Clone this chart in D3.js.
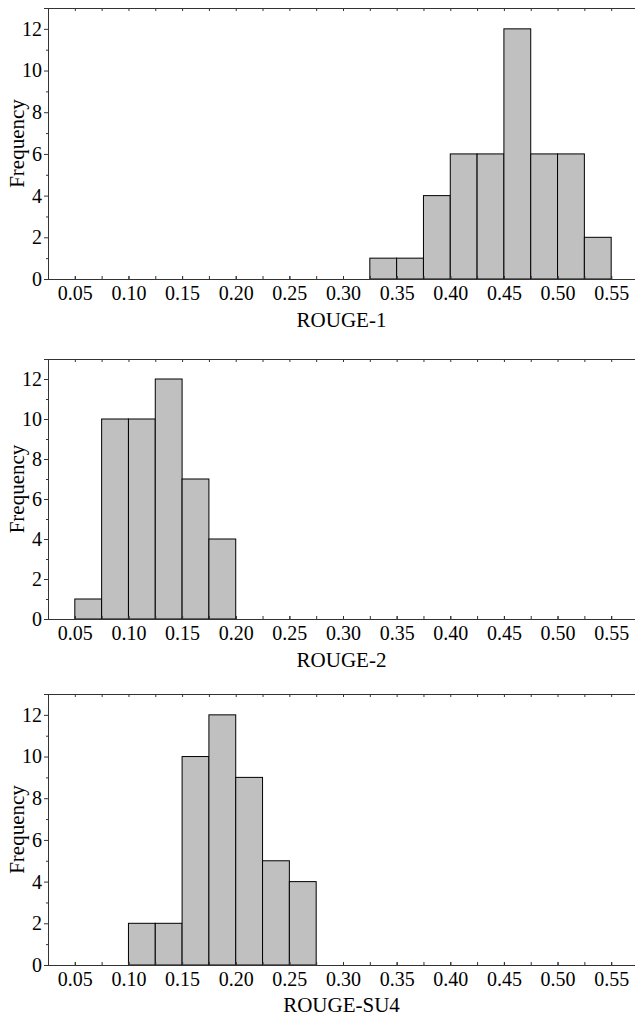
<!DOCTYPE html>
<html>
<head>
<meta charset="utf-8">
<script src="https://cdn.jsdelivr.net/npm/d3@7"></script>
<style>
  body { margin: 0; background: #fff; }
</style>
</head>
<body>
<div id="chart"></div>
<script>
// Histogram bins (width 0.025)
const binWidth = 0.025;
const rouge1Start = 0.325;
const rouge1Counts = [1, 1, 4, 6, 6, 12, 6, 6, 2];
const rouge2Start = 0.05;
const rouge2Counts = [1, 10, 10, 12, 7, 4];
const rougeSU4Start = 0.10;
const rougeSU4Counts = [2, 2, 10, 12, 9, 5, 4];

const xTickValues = [0.05, 0.10, 0.15, 0.20, 0.25, 0.30, 0.35, 0.40, 0.45, 0.50, 0.55];
const yTickValues = [0, 2, 4, 6, 8, 10, 12];

const panels = [
    { label: 'ROUGE-1', start: rouge1Start, counts: rouge1Counts, top: 8, bottom: 279, titleY: 327 },
    { label: 'ROUGE-2', start: rouge2Start, counts: rouge2Counts, top: 359, bottom: 619, titleY: 667 },
    { label: 'ROUGE-SU4', start: rougeSU4Start, counts: rougeSU4Counts, top: 694, bottom: 965, titleY: 1012 }
];

const width = 635;
const height = 1019;
const left = 48;
const font = '"Liberation Serif", "Times New Roman", serif';

const svg = d3.select('#chart')
    .append('svg')
    .attr('width', width)
    .attr('height', height)
    .style('font-family', font);

const x = d3.scaleLinear()
    .domain([0.025, 0.575])
    .range([left, 638]);

const minorX = d3.range(0, 23).map(i => 0.025 + i * 0.025);

panels.forEach(p => {
    const bins = p.counts.map((c, i) => ({ x0: p.start + i * binWidth, x1: p.start + (i + 1) * binWidth, count: c }));

    const y = d3.scaleLinear()
        .domain([0, 13])
        .range([p.bottom, p.top]);

    const g = svg.append('g');

    // bars
    g.selectAll('rect')
        .data(bins)
        .enter()
        .append('rect')
        .attr('x', d => x(d.x0))
        .attr('y', d => y(d.count))
        .attr('width', d => x(d.x1) - x(d.x0))
        .attr('height', d => y(0) - y(d.count))
        .attr('fill', '#c0c0c0')
        .attr('stroke', '#000')
        .attr('stroke-width', 1);

    // bottom axis: major + minor ticks, inward
    g.append('g')
        .attr('transform', `translate(0,${p.bottom})`)
        .call(d3.axisBottom(x).tickValues(minorX).tickSize(-3).tickFormat(''));
    const bottom = g.append('g')
        .attr('transform', `translate(0,${p.bottom})`)
        .call(d3.axisBottom(x).tickValues(xTickValues).tickSize(-3).tickPadding(7)
            .tickFormat(d3.format('.2f')));

    // top border with inward ticks
    g.append('g')
        .attr('transform', `translate(0,${p.top})`)
        .call(d3.axisTop(x).tickValues(minorX).tickSize(-3).tickFormat(''));

    // left axis: major + minor ticks
    g.append('g')
        .attr('transform', `translate(${left},0)`)
        .call(d3.axisLeft(y).tickValues([1, 3, 5, 7, 9, 11, 13]).tickSize(2).tickFormat(''));
    const leftAxis = g.append('g')
        .attr('transform', `translate(${left},0)`)
        .call(d3.axisLeft(y).tickValues(yTickValues).tickSize(4).tickPadding(2));

    g.selectAll('.tick text')
        .attr('font-family', font)
        .attr('font-size', 20)
        .attr('fill', '#000');

    // axis titles
    g.append('text')
        .attr('x', (x(0.025) + 635) / 2)
        .attr('y', p.titleY)
        .attr('text-anchor', 'middle')
        .attr('font-family', font)
        .attr('font-size', 21)
        .text(p.label);

    g.append('text')
        .attr('transform', `translate(24,${(p.top + p.bottom) / 2}) rotate(-90)`)
        .attr('text-anchor', 'middle')
        .attr('font-family', font)
        .attr('font-size', 21)
        .text('Frequency');
});

svg.selectAll('.domain').attr('stroke', '#333');
svg.selectAll('.tick line').attr('stroke', '#333');
</script>
</body>
</html>
